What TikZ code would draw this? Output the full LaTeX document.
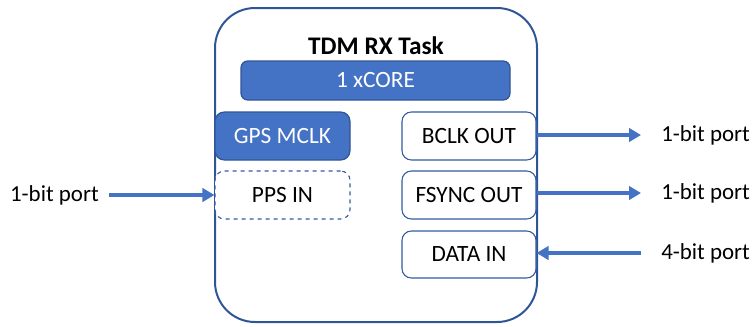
\documentclass[tikz,border=0pt]{standalone}
\usepackage{fontspec}
\setmainfont{Carlito}
\usetikzlibrary{arrows.meta}
\definecolor{obl}{HTML}{4472C4}
\definecolor{dbl}{HTML}{2F5597}
\begin{document}
\begin{tikzpicture}[x=0.75pt,y=-0.75pt,
  outerbox/.style={draw=dbl,line width=1.5pt,rounded corners=30pt,minimum width=241.5pt,minimum height=235.5pt},
  fillbox/.style={draw=dbl,line width=0.9pt,fill=obl,text=white,rounded corners=5pt,font=\fontsize{17.5}{20}\selectfont},
  wbox/.style={draw=dbl!80!obl,line width=0.8pt,fill=white,rounded corners=7pt,minimum width=100.5pt,minimum height=36pt,font=\fontsize{17.5}{20}\selectfont},
  lbl/.style={font=\fontsize{17.2}{20}\selectfont,inner sep=0pt},
  arr/.style={draw=obl,line width=2.6pt,-{Triangle[length=9pt,width=10pt]}}
]
\useasboundingbox (0,0) rectangle (754,326);
\node[outerbox] (outer) at (376,165) {};
\node[font=\fontsize{19}{22}\selectfont\bfseries] (title) at (376,46) {TDM RX Task};
\node[fillbox,minimum width=201.75pt,minimum height=29.25pt] (core) at (375.5,80.5) {1 xCORE};
\node[fillbox,minimum width=101.25pt,minimum height=36pt,rounded corners=7pt] (gps) at (282.5,136) {GPS MCLK};
\node[wbox,dashed,minimum width=101.25pt] (pps) at (282.5,195) {PPS IN};
\node[wbox] (bclk) at (469,136) {BCLK OUT};
\node[wbox] (fsync) at (469,195) {FSYNC OUT};
\node[wbox,minimum height=35.25pt] (data) at (469,254.5) {DATA IN};
\node[lbl,anchor=east] (lp) at (99,195) {1-bit port};
\node[lbl,anchor=west] (r1) at (661,135) {1-bit port};
\node[lbl,anchor=west] (r2) at (661,193) {1-bit port};
\node[lbl,anchor=west] (r3) at (661,253) {4-bit port};
\draw[arr,shorten <=7.5pt] (lp.east) -- (pps.west);
\draw[arr,shorten >=15pt] (bclk.east |- r1.west) -- (r1.west);
\draw[arr,shorten >=15pt] (fsync.east |- r2.west) -- (r2.west);
\draw[arr,shorten <=15pt] (r3.west) -- (data.east |- r3.west);
\end{tikzpicture}
\end{document}
